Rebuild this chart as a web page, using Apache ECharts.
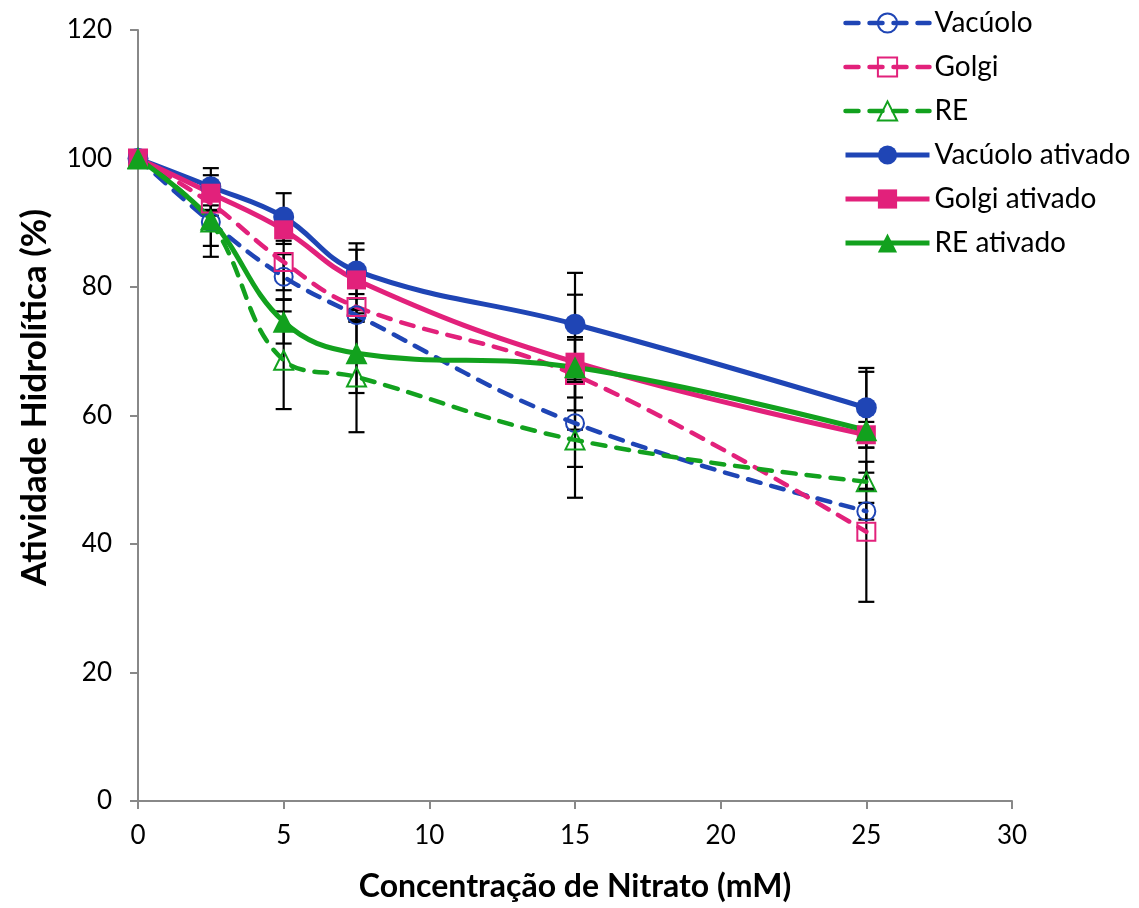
<!DOCTYPE html>
<html>
<head>
<meta charset="utf-8">
<script src="https://cdn.jsdelivr.net/npm/echarts@6/dist/echarts.min.js"></script>
<style>
html,body{margin:0;padding:0;background:#fff;}
#chart{width:1139px;height:908px;}
</style>
</head>
<body>
<div id="chart"></div>
<script>
// Data
const xVals = [0, 2.5, 5, 7.5, 15, 25];
const vacuolo = [100, 90.1, 81.6, 75.6, 58.8, 45.1];
const golgi = [100, 93.0, 83.9, 76.9, 66.3, 41.9];
const re = [100, 90.1, 68.6, 66.0, 56.2, 49.7];
const vacuoloAt = [100, 95.6, 90.9, 82.5, 74.2, 61.2];
const golgiAt = [100, 94.6, 88.9, 81.1, 68.3, 57.0];
const reAt = [100, 90.5, 74.6, 69.7, 67.5, 57.7];
const vacuoloErr = [0, 1.0, 3.5, 1.0, 6.8, 1.3];
const golgiErr = [0, 1.0, 4.4, 2.0, 5.5, 10.9];
const reErr = [0, 5.4, 7.6, 8.6, 9.0, 1.4];
const vacuoloAtErr = [0, 2.9, 3.7, 4.3, 8.0, 6.2];
const golgiAtErr = [0, 2.8, 2.2, 4.7, 10.5, 2.0];
const reAtErr = [0, 4.1, 3.4, 6.2, 4.7, 9.1];
const seriesNames = ['Vacúolo', 'Golgi', 'RE', 'Vacúolo ativado', 'Golgi ativado', 'RE ativado'];
const xTitle = 'Concentração de Nitrato (mM)';
const yTitle = 'Atividade Hidrolítica (%)';

const BLUE = '#1F45B5', PINK = '#E2217B', GREEN = '#12A11E';
const FONT = 'Lato, "Open Sans", sans-serif';

const chart = echarts.init(document.getElementById('chart'));

function pairs(ys) { return xVals.map((x, i) => [x, ys[i]]); }
function errData(ys, es) { return xVals.map((x, i) => [x, ys[i], es[i]]); }

function errSeries(ys, es) {
  return {
    type: 'custom',
    z: 1,
    silent: true,
    data: errData(ys, es),
    encode: { x: 0, y: 1 },
    renderItem: function (params, api) {
      const x = api.value(0), y = api.value(1), e = api.value(2);
      if (!e) return null;
      const top = api.coord([x, y + e]);
      const bot = api.coord([x, y - e]);
      const hw = 8;
      const st = { stroke: '#000', lineWidth: 2.2 };
      return {
        type: 'group',
        children: [
          { type: 'line', shape: { x1: top[0], y1: top[1], x2: bot[0], y2: bot[1] }, style: st },
          { type: 'line', shape: { x1: top[0] - hw, y1: top[1], x2: top[0] + hw, y2: top[1] }, style: st },
          { type: 'line', shape: { x1: bot[0] - hw, y1: bot[1], x2: bot[0] + hw, y2: bot[1] }, style: st }
        ]
      };
    }
  };
}

function lineSeries(name, ys, color, dashed, symbol, size) {
  return {
    name: name,
    type: 'line',
    z: 3,
    smooth: 0.4,
    data: pairs(ys),
    symbol: symbol,
    symbolSize: size,
    lineStyle: dashed
      ? { color: color, width: 4.5, type: [13, 11], cap: 'round' }
      : { color: color, width: 5 },
    itemStyle: dashed
      ? { color: 'rgba(255,255,255,0)', borderColor: color, borderWidth: 2 }
      : { color: color, borderWidth: 0 },
    emphasis: { disabled: true }
  };
}

const option = {
  backgroundColor: '#fff',
  animation: false,
  grid: { left: 138, right: 127, top: 30, bottom: 107 },
  legend: {
    orient: 'vertical',
    left: 838,
    top: 4,
    itemWidth: 84,
    itemHeight: 24,
    itemGap: 16,
    data: seriesNames,
    lineStyle: { width: 'inherit' },
    textStyle: { fontFamily: FONT, fontSize: 28, color: '#000' }
  },
  xAxis: {
    type: 'value',
    min: 0, max: 30, interval: 5,
    name: xTitle,
    nameLocation: 'middle',
    nameGap: 70,
    nameTextStyle: { fontFamily: FONT, fontSize: 32, fontWeight: 'bold', color: '#000' },
    axisLine: { lineStyle: { color: '#888', width: 2 } },
    axisTick: { show: true, length: 8, lineStyle: { color: '#888', width: 2 } },
    axisLabel: { fontFamily: FONT, fontSize: 26, color: '#000', margin: 22 },
    splitLine: { show: false }
  },
  yAxis: {
    type: 'value',
    min: 0, max: 120, interval: 20,
    name: yTitle,
    nameLocation: 'middle',
    nameGap: 86,
    nameTextStyle: { fontFamily: FONT, fontSize: 35, fontWeight: 'bold', color: '#000', padding: [0, 0, 0, 36] },
    axisLine: { show: true, lineStyle: { color: '#888', width: 2 } },
    axisTick: { show: true, length: 8, lineStyle: { color: '#888', width: 2 } },
    axisLabel: { fontFamily: FONT, fontSize: 26, color: '#000', margin: 26 },
    splitLine: { show: false }
  },
  series: [
    errSeries(vacuolo, vacuoloErr),
    errSeries(golgi, golgiErr),
    errSeries(re, reErr),
    errSeries(vacuoloAt, vacuoloAtErr),
    errSeries(golgiAt, golgiAtErr),
    errSeries(reAt, reAtErr),
    lineSeries(seriesNames[0], vacuolo, BLUE, true, 'circle', 18),
    lineSeries(seriesNames[1], golgi, PINK, true, 'rect', 18),
    lineSeries(seriesNames[2], re, GREEN, true, 'triangle', 19),
    lineSeries(seriesNames[3], vacuoloAt, BLUE, false, 'circle', 21),
    lineSeries(seriesNames[4], golgiAt, PINK, false, 'rect', 19),
    lineSeries(seriesNames[5], reAt, GREEN, false, 'triangle', 22)
  ]
};
chart.setOption(option);
</script>
</body>
</html>
